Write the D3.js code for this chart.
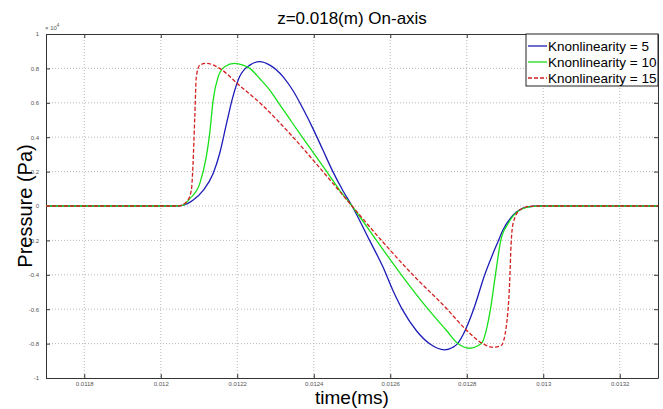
<!DOCTYPE html>
<html>
<head>
<meta charset="utf-8">
<script src="https://cdn.jsdelivr.net/npm/d3@7"></script>
<style>
  body { margin: 0; background: #fff; }
  text { font-family: Arial, "Liberation Sans", sans-serif; }
  .tick text { font-size: 6px; fill: #555; }
</style>
</head>
<body>
<div class="chart"></div>
<script>
var svgWidth = 663;
var svgHeight = 409;

var margin = { top: 34, right: 5, bottom: 31, left: 46 };
var width = 658 - margin.left;
var height = 378 - margin.top;

// values are in units of 10^4 Pa
var timeBlue = [0.0117, 0.012037, 0.012057, 0.012084, 0.012111, 0.012137, 0.012154, 0.012172, 0.012188, 0.012206, 0.012233, 0.012259, 0.012285, 0.012320, 0.012346, 0.012372, 0.012398, 0.012424, 0.012450, 0.012476, 0.0125,
  0.012546, 0.012581, 0.012607, 0.012633, 0.012668, 0.012703, 0.012742, 0.012764, 0.012776, 0.012790, 0.012818, 0.012847, 0.012883, 0.012894, 0.012921, 0.012956, 0.012990, 0.0133];
var pressBlue = [0, 0, 0.004, 0.033, 0.091, 0.189, 0.305, 0.48, 0.63, 0.751, 0.819, 0.839, 0.819, 0.751, 0.67, 0.565, 0.45, 0.325, 0.2, 0.09, 0,
  -0.2, -0.355, -0.491, -0.607, -0.724, -0.801, -0.836, -0.821, -0.8, -0.75, -0.6, -0.4, -0.2, -0.142, -0.054, -0.006, 0, 0];

var timeGreen = [0.0117, 0.012037, 0.012057, 0.012076, 0.012102, 0.012119, 0.012128, 0.012137, 0.012150, 0.012167, 0.012193, 0.012215, 0.012233, 0.012259, 0.012285, 0.012308, 0.012337, 0.012370, 0.012402, 0.012434, 0.012465, 0.0125,
  0.012564, 0.012629, 0.012699, 0.012747, 0.012777, 0.012807, 0.012838, 0.012862, 0.012875, 0.012889, 0.012908, 0.012938, 0.012973, 0.013003, 0.0133];
var pressGreen = [0, 0, 0.004, 0.043, 0.130, 0.285, 0.422, 0.616, 0.751, 0.81, 0.829, 0.819, 0.8, 0.74, 0.674, 0.6, 0.506, 0.4, 0.3, 0.2, 0.1, 0,
  -0.2, -0.4, -0.6, -0.724, -0.8, -0.827, -0.8, -0.6, -0.4, -0.2, -0.103, -0.025, -0.002, 0, 0];

var timeRed = [0.0117, 0.012044, 0.012067, 0.012080, 0.012084, 0.012089, 0.012093, 0.012102, 0.012119, 0.012154, 0.012206, 0.012259, 0.012346, 0.012424, 0.0125,
  0.012577, 0.012659, 0.012749, 0.012794, 0.012842, 0.012868, 0.012890, 0.012903, 0.012912, 0.012916, 0.012921, 0.012938, 0.012964, 0.012990, 0.0133];
var pressRed = [0, 0, 0.023, 0.091, 0.227, 0.518, 0.751, 0.819, 0.829, 0.8, 0.70, 0.6, 0.4, 0.2, 0,
  -0.2, -0.4, -0.6, -0.71, -0.8, -0.821, -0.811, -0.705, -0.452, -0.219, -0.103, -0.025, -0.002, 0, 0];

var seriesNames = ["Knonlinearity = 5", "Knonlinearity = 10", "Knonlinearity = 15"];
var xTicks = [0.0118, 0.012, 0.0122, 0.0124, 0.0126, 0.0128, 0.013, 0.0132];
var xTickLabels = ["0.0118", "0.012", "0.0122", "0.0124", "0.0126", "0.0128", "0.013", "0.0132"];
var yTicks = [-1, -0.8, -0.6, -0.4, -0.2, 0, 0.2, 0.4, 0.6, 0.8, 1];

var series = [
  { name: seriesNames[0], t: timeBlue, p: pressBlue, color: "#1c1cb8", dash: null },
  { name: seriesNames[1], t: timeGreen, p: pressGreen, color: "#18e018", dash: null },
  { name: seriesNames[2], t: timeRed, p: pressRed, color: "#d42020", dash: "4,2" }
];

var svg = d3.select(".chart")
  .append("svg")
  .attr("width", svgWidth)
  .attr("height", svgHeight)
  .append("g")
  .attr("transform", "translate(" + margin.left + "," + margin.top + ")");

var xScale = d3.scaleLinear().domain([0.0117, 0.0133]).range([0, width]);
var yScale = d3.scaleLinear().domain([-1, 1]).range([height, 0]);

// grid
svg.append("g").selectAll("line")
  .data(xTicks)
  .enter().append("line")
  .attr("x1", function(d) { return xScale(d); })
  .attr("x2", function(d) { return xScale(d); })
  .attr("y1", 0).attr("y2", height)
  .attr("stroke", "#b8b8b8").attr("stroke-dasharray", "1,2");

svg.append("g").selectAll("line")
  .data(yTicks.slice(1, -1))
  .enter().append("line")
  .attr("y1", function(d) { return yScale(d); })
  .attr("y2", function(d) { return yScale(d); })
  .attr("x1", 0).attr("x2", width)
  .attr("stroke", "#b8b8b8").attr("stroke-dasharray", "1,2");

// axes
var bottomAxis = d3.axisBottom(xScale).tickValues(xTicks)
  .tickFormat(function(d, i) { return xTickLabels[i]; })
  .tickSizeInner(-4).tickSizeOuter(0).tickPadding(4);
var topAxis = d3.axisTop(xScale).tickValues(xTicks).tickFormat("").tickSizeInner(-4).tickSizeOuter(0);
var leftAxis = d3.axisLeft(yScale).tickValues(yTicks)
  .tickFormat(function(d) { return String(d); })
  .tickSizeInner(-4).tickSizeOuter(0).tickPadding(7);
var rightAxis = d3.axisRight(yScale).tickValues(yTicks).tickFormat("").tickSizeInner(-4).tickSizeOuter(0);

svg.append("g").attr("transform", "translate(0," + height + ")").call(bottomAxis);
svg.append("g").call(topAxis);
svg.append("g").call(leftAxis);
svg.append("g").attr("transform", "translate(" + width + ",0)").call(rightAxis);

svg.selectAll(".domain").attr("stroke", "#333");
svg.selectAll(".tick line").attr("stroke", "#333");

svg.append("text")
  .attr("x", -1).attr("y", -4)
  .attr("font-size", "6px").attr("fill", "#555")
  .text("× 10")
  .append("tspan").attr("dy", -3).attr("font-size", "4.5px").text("4");

// lines
var line = d3.line()
  .x(function(d) { return xScale(d[0]); })
  .y(function(d) { return yScale(d[1]); })
  .curve(d3.curveMonotoneX);

series.forEach(function(s) {
  svg.append("path")
    .datum(d3.zip(s.t, s.p))
    .attr("d", line)
    .attr("fill", "none")
    .attr("stroke", s.color)
    .attr("stroke-width", 1.3)
    .attr("stroke-dasharray", s.dash);
});

// legend
var legend = svg.append("g").attr("transform", "translate(" + (526 - margin.left) + ",0)");
legend.append("rect")
  .attr("width", 132).attr("height", 52)
  .attr("fill", "#fff").attr("stroke", "#222").attr("stroke-width", 1);
series.forEach(function(s, i) {
  var y = 12 + i * 16;
  legend.append("line")
    .attr("x1", 2).attr("x2", 21).attr("y1", y).attr("y2", y)
    .attr("stroke", s.color).attr("stroke-width", 1.3)
    .attr("stroke-dasharray", s.dash);
  legend.append("text")
    .attr("x", 22).attr("y", y + 5)
    .attr("font-size", "13.5px").attr("fill", "#000")
    .text(s.name);
});

// labels
svg.append("text")
  .attr("x", width / 2).attr("y", -10)
  .attr("text-anchor", "middle")
  .attr("font-size", "17px")
  .text("z=0.018(m) On-axis");

svg.append("text")
  .attr("x", width / 2).attr("y", height + 26)
  .attr("text-anchor", "middle")
  .attr("font-size", "19px")
  .text("time(ms)");

svg.append("text")
  .attr("transform", "rotate(-90)")
  .attr("x", -height / 2).attr("y", -14)
  .attr("text-anchor", "middle")
  .attr("font-size", "20px")
  .text("Pressure (Pa)");
</script>
</body>
</html>
